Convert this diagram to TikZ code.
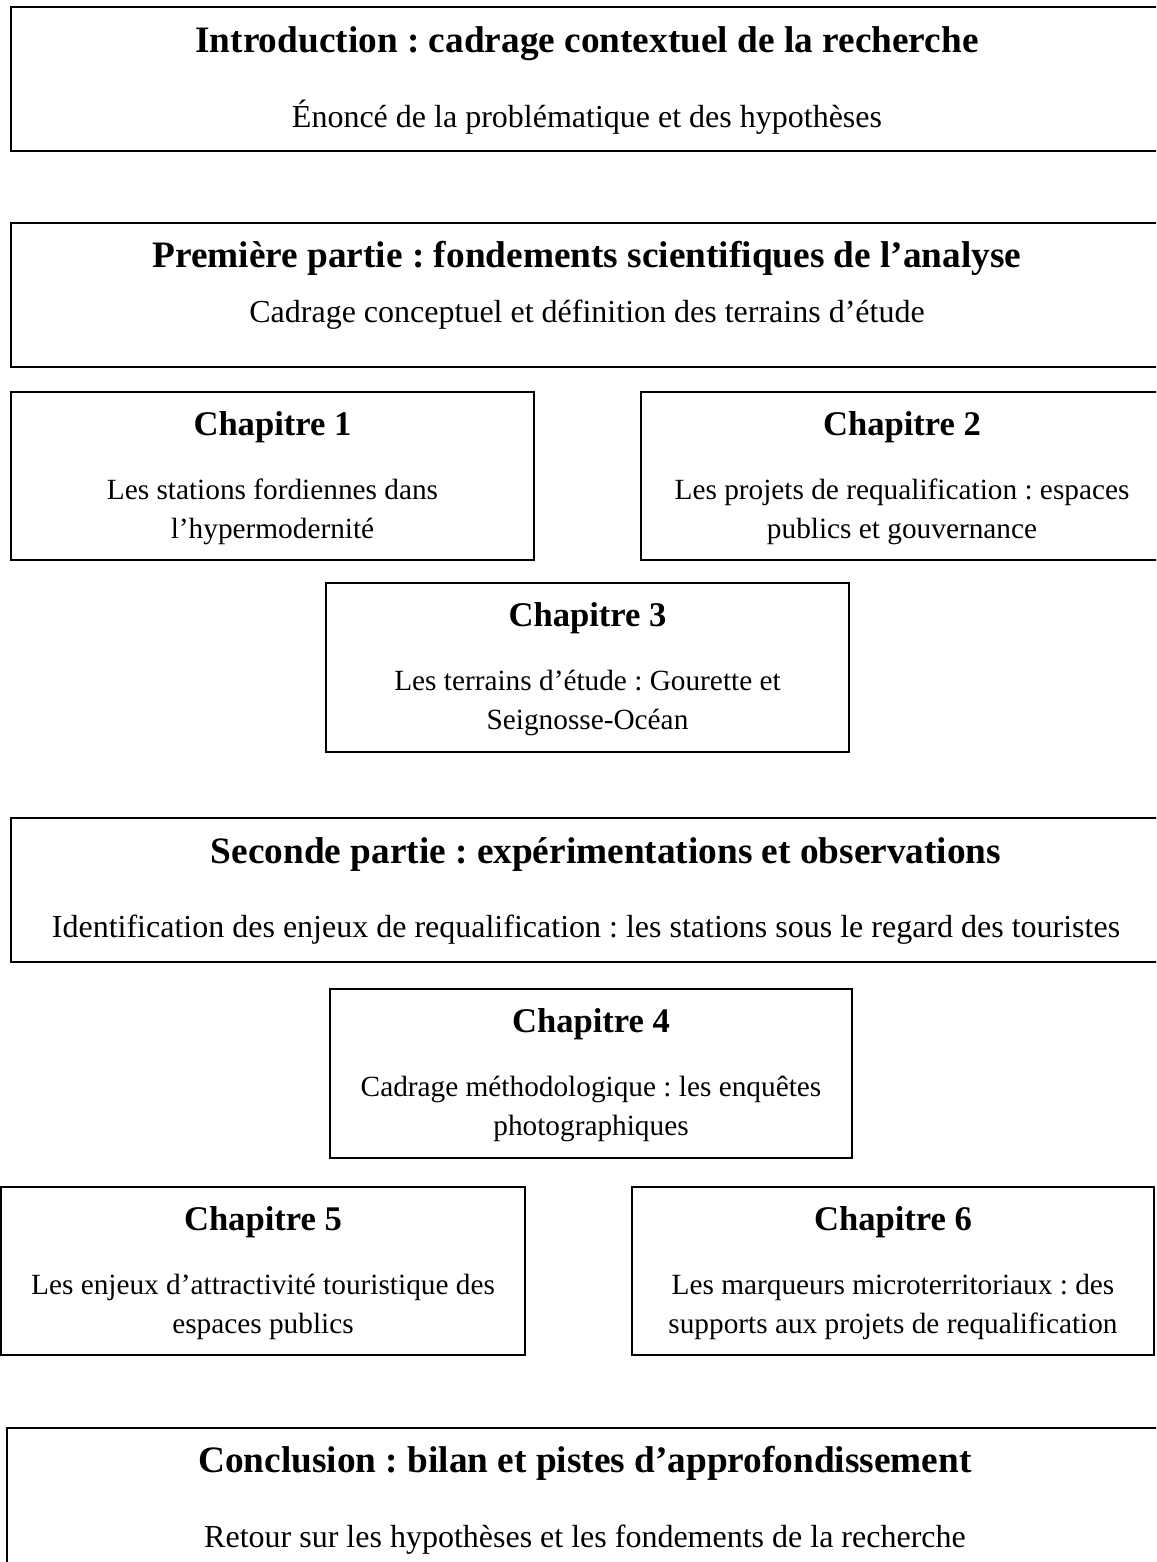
\documentclass[tikz,border=0pt]{standalone}
\usepackage{fontspec}
\setmainfont{Liberation Serif}
\frenchspacing
\begin{document}
\begin{tikzpicture}[x=1pt,y=-1pt,
  boxshape/.style={draw, line width=1.5pt, rectangle, inner sep=0pt, outer sep=0pt, anchor=north west},
  ttl/.style={font=\fontsize{37.3}{43}\selectfont\bfseries, anchor=base, inner sep=0pt},
  txt/.style={font=\fontsize{32}{38}\selectfont, anchor=base, inner sep=0pt},
  cttl/.style={font=\fontsize{34.6}{40}\selectfont\bfseries, anchor=base, inner sep=0pt},
  ctxt/.style={font=\fontsize{29.3}{35}\selectfont, anchor=base, inner sep=0pt}]
\useasboundingbox (0,0) rectangle (1156,1562);
\clip (0,0) rectangle (1156,1562);
% boxes
\node[boxshape, minimum width=1152pt, minimum height=144pt] (intro) at (11,7) {};
\node[boxshape, minimum width=1152pt, minimum height=144pt] (partA) at (11,223) {};
\node[boxshape, minimum width=523pt, minimum height=168pt] (ch1) at (11,392) {};
\node[boxshape, minimum width=522pt, minimum height=168pt] (ch2) at (641,392) {};
\node[boxshape, minimum width=523pt, minimum height=169pt] (ch3) at (326,583) {};
\node[boxshape, minimum width=1152pt, minimum height=144pt] (partB) at (11,818) {};
\node[boxshape, minimum width=522pt, minimum height=169pt] (ch4) at (330,989) {};
\node[boxshape, minimum width=524pt, minimum height=168pt] (ch5) at (1,1187) {};
\node[boxshape, minimum width=522pt, minimum height=168pt] (ch6) at (632,1187) {};
\node[boxshape, minimum width=1156pt, minimum height=144pt] (concl) at (7,1428) {};
% texts
\node[ttl] (introT) at (587,53) {Introduction : cadrage contextuel de la recherche};
\node[txt] (introS) at (587,128) {Énoncé de la problématique et des hypothèses};
\node[ttl] (partAT) at (587,268) {Première partie : fondements scientifiques de l’analyse};
\node[txt] (partAS) at (587,322) {Cadrage conceptuel et définition des terrains d’étude};
\node[cttl] (ch1T) at (272.5,435) {Chapitre 1};
\node[ctxt] (ch1a) at (272.5,499) {Les stations fordiennes dans};
\node[ctxt] (ch1b) at (272.5,538) {l’hypermodernité};
\node[cttl] (ch2T) at (902,435) {Chapitre 2};
\node[ctxt] (ch2a) at (902,499) {Les projets de requalification : espaces};
\node[ctxt] (ch2b) at (902,538) {publics et gouvernance};
\node[cttl] (ch3T) at (587.5,626) {Chapitre 3};
\node[ctxt] (ch3a) at (587.5,690) {Les terrains d’étude : Gourette et};
\node[ctxt] (ch3b) at (587.5,729) {Seignosse-Océan};
\node[ttl] (partBT) at (606,863) {Seconde partie : expérimentations et observations};
\node[txt] (partBS) at (586,937) {Identification des enjeux de requalification : les stations sous le regard des touristes};
\node[cttl] (ch4T) at (591,1032) {Chapitre 4};
\node[ctxt] (ch4a) at (591,1096) {Cadrage méthodologique : les enquêtes};
\node[ctxt] (ch4b) at (591,1135) {photographiques};
\node[cttl] (ch5T) at (263,1230) {Chapitre 5};
\node[ctxt] (ch5a) at (263,1294) {Les enjeux d’attractivité touristique des};
\node[ctxt] (ch5b) at (263,1333) {espaces publics};
\node[cttl] (ch6T) at (893,1230) {Chapitre 6};
\node[ctxt] (ch6a) at (893,1294) {Les marqueurs microterritoriaux : des};
\node[ctxt] (ch6b) at (893,1333) {supports aux projets de requalification};
\node[ttl] (conclT) at (585,1472) {Conclusion : bilan et pistes d’approfondissement};
\node[txt] (conclS) at (585,1547) {Retour sur les hypothèses et les fondements de la recherche};
\end{tikzpicture}
\end{document}
